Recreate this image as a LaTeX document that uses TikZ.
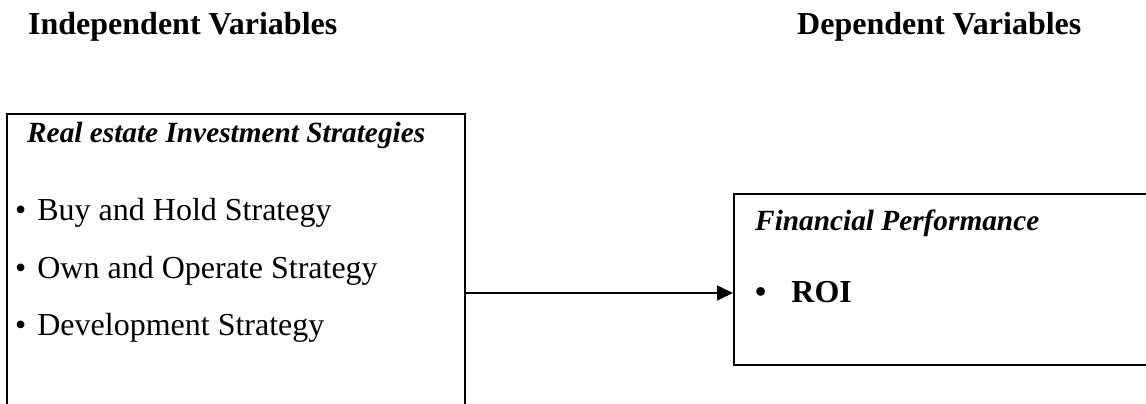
\documentclass[tikz,border=0pt]{standalone}
\usepackage{fontspec}
\setmainfont{Liberation Serif}
\usetikzlibrary{arrows.meta}
\begin{document}
\begin{tikzpicture}[x=1pt,y=1pt,
  txt/.style={anchor=base west,inner sep=0pt,font=\fontsize{32}{38}\selectfont},
  ttl/.style={anchor=base west,inner sep=0pt,font=\fontsize{29.3}{35}\selectfont\bfseries\itshape},
  boxframe/.style={draw,line width=1.5pt,inner sep=0pt,anchor=north west},
  link/.style={line width=1.6pt,-{Triangle[length=16pt,width=15pt]}}]
\useasboundingbox (0,0) rectangle (1146,-404);
\clip (0,0) rectangle (1146,-404);
% headings
\node[txt] (hind) at (28,-35) {\bfseries Independent Variables};
\node[txt] (hdep) at (797,-35) {\bfseries Dependent Variables};
% left box
\node[boxframe,minimum width=458pt,minimum height=360pt] (lbox) at (6,-113) {};
\node[ttl] (ltitle) at (27,-142) {Real estate Investment Strategies};
\node[txt] (b1) at (15,-220) {•\hspace{11pt}Buy and Hold Strategy};
\node[txt] (b2) at (15,-278) {•\hspace{11pt}Own and Operate Strategy};
\node[txt] (b3) at (15,-335) {•\hspace{11pt}Development Strategy};
% right box
\node[boxframe,minimum width=440pt,minimum height=171pt] (rbox) at (733,-193) {};
\node[ttl] (rtitle) at (755,-230) {Financial Performance};
\node[txt] (rb) at (755,-302) {\bfseries •\hspace{25pt}ROI};
% connector
\coordinate (ay) at (0,-293);
\draw[link] (lbox.east |- ay) -- (rbox.west |- ay);
\end{tikzpicture}
\end{document}
